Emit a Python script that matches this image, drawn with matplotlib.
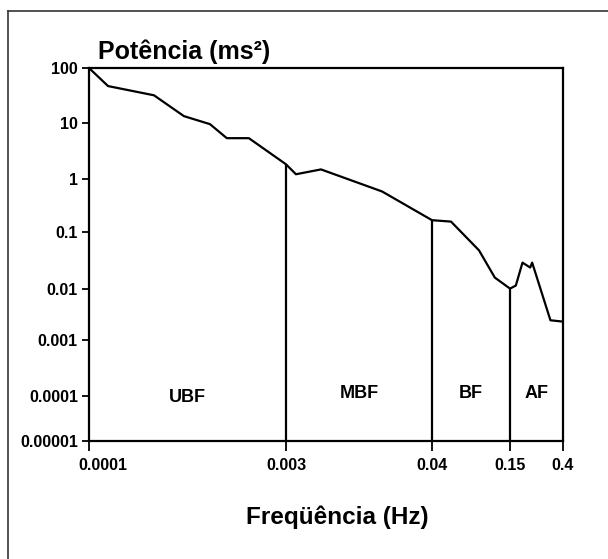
import matplotlib
matplotlib.use('Agg')
import matplotlib.pyplot as plt
from matplotlib.lines import Line2D
from matplotlib.transforms import ScaledTranslation
import numpy as np

plt.rcParams['font.family'] = ['Liberation Sans', 'DejaVu Sans']

# values
freq = [0.0001, 0.000139, 0.000307, 0.000515, 0.000807, 0.00108, 0.00158,
        0.003, 0.00358, 0.00558, 0.0165, 0.04, 0.0552, 0.0887, 0.116,
        0.15, 0.167, 0.189, 0.218, 0.226, 0.234, 0.317, 0.4]
power = [100, 47, 32, 13.4, 9.6, 5.4, 5.4,
         1.85, 1.23, 1.5, 0.59, 0.17, 0.16, 0.048, 0.0157,
         0.01, 0.0113, 0.029, 0.0237, 0.029, 0.0228, 0.0024, 0.00226]

x_ticks = [0.0001, 0.003, 0.04, 0.15, 0.4]
x_labels = ['0.0001', '0.003', '0.04', '0.15', '0.4']
y_ticks = [1e-5, 1e-4, 1e-3, 1e-2, 0.1, 1, 10, 100]
y_labels = ['0.00001', '0.0001', '0.001', '0.01', '0.1', '1', '10', '100']
band_edges = [0.0001, 0.003, 0.04, 0.15, 0.4]
band_names = ['UBF', 'MBF', 'BF', 'AF']

# the original axes are hand-spaced, not truly logarithmic
x_pos = [0, 197, 343, 421, 474]
y_pos = [0, 45, 101, 152, 208, 261, 317, 372]


def make_scale(ticks, pos):
    lt = np.log10(ticks)

    def fwd(v):
        v = np.log10(np.clip(np.asarray(v, dtype=float), 1e-12, None))
        return np.interp(v, lt, pos)

    def inv(p):
        return 10 ** np.interp(np.asarray(p, dtype=float), pos, lt)
    return fwd, inv


xf, xi = make_scale(x_ticks, x_pos)
yf, yi = make_scale(y_ticks, y_pos)

fig = plt.figure(figsize=(6.08, 5.59), dpi=100)
ax = fig.add_axes([89 / 608, 1 - 441 / 559, (563 - 89) / 608, (441 - 68) / 559])
ax.set_xscale('function', functions=(xf, xi))
ax.set_yscale('function', functions=(yf, yi))
ax.set_xlim(0.0001, 0.4)
ax.set_ylim(1e-5, 100)

ax.plot(freq, power, color='black', lw=1.6)

for e in band_edges[1:-1]:
    ax.vlines(e, 1e-5, power[freq.index(e)], color='black', lw=1.6)

for i, name in enumerate(band_names):
    a, b = band_edges[i], band_edges[i + 1]
    xm = xi((xf(a) + xf(b)) / 2)
    yl = 0.9e-4 if name == 'UBF' else 1.1e-4
    ax.text(xm, yl, name, ha='center', va='center', fontsize=13,
            fontweight='bold')

ax.set_xticks(x_ticks)
ax.set_xticklabels(x_labels)
ax.set_yticks(y_ticks)
ax.set_yticklabels(y_labels)
ax.minorticks_off()
ax.tick_params(axis='x', length=7, width=1.3, pad=5, labelsize=11.5)
ax.tick_params(axis='y', length=5, width=1.3, pad=3, labelsize=11.5)
for lab in ax.get_xticklabels() + ax.get_yticklabels():
    lab.set_fontweight('bold')
# first x label sits a bit right of its tick in the original
first = ax.get_xticklabels()[0]
first.set_transform(first.get_transform() +
                    ScaledTranslation(0.14, 0, fig.dpi_scale_trans))
for sp in ax.spines.values():
    sp.set_linewidth(1.6)

fig.text(98 / 608, 1 - 52 / 559, 'Potência (ms²)', ha='left', va='center',
         fontsize=18, fontweight='bold')
fig.text(337 / 608, 1 - 517 / 559, 'Freqüência (Hz)', ha='center',
         va='center', fontsize=17.5, fontweight='bold')

# scan border: only top and left edges show
fig.add_artist(Line2D([8 / 608, 1], [1 - 11 / 559] * 2, color='#333333',
                      lw=1.2, transform=fig.transFigure))
fig.add_artist(Line2D([8 / 608] * 2, [0, 1 - 11 / 559], color='#333333',
                      lw=1.2, transform=fig.transFigure))

fig.savefig('out.png', dpi=100)
